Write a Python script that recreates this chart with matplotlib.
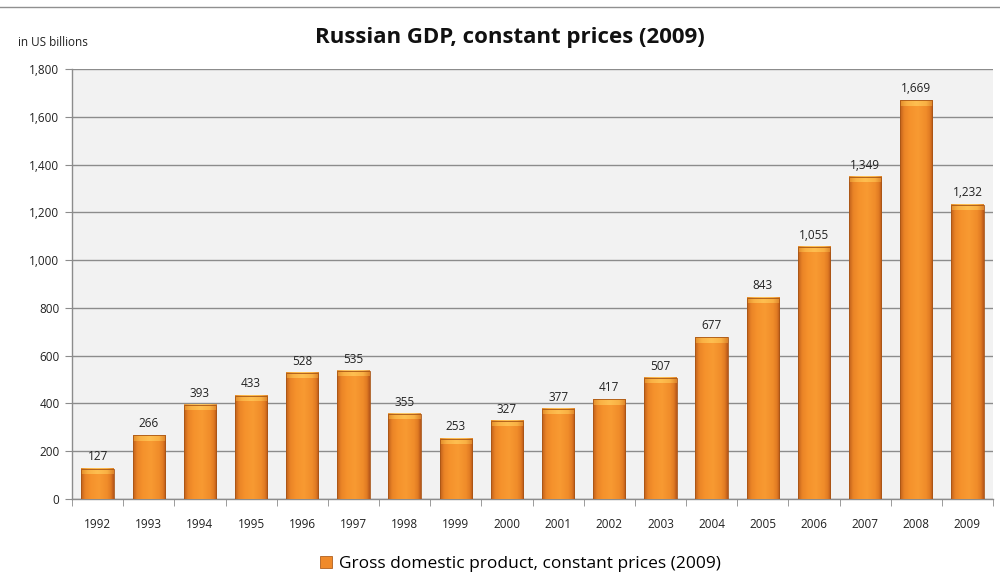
import matplotlib
matplotlib.use("Agg")
import matplotlib.pyplot as plt
import numpy as np
from matplotlib.colors import LinearSegmentedColormap
from matplotlib.patches import Rectangle

years = ["1992", "1993", "1994", "1995", "1996", "1997", "1998", "1999", "2000",
         "2001", "2002", "2003", "2004", "2005", "2006", "2007", "2008", "2009"]
gdp = [127, 266, 393, 433, 528, 535, 355, 253, 327,
       377, 417, 507, 677, 843, 1055, 1349, 1669, 1232]
y_ticks = [0, 200, 400, 600, 800, 1000, 1200, 1400, 1600, 1800]

plt.rcParams["font.family"] = ["Open Sans", "DejaVu Sans"]

fig = plt.figure(figsize=(10, 5.85), dpi=100)
ax = fig.add_axes([0.072, 0.147, 0.921, 0.735])
ax.set_facecolor("#f2f2f2")

n = len(years)
x = np.arange(n)
width = 0.63

# Rounded shading across each bar: flat orange body, darker rims
body_cmap = LinearSegmentedColormap.from_list(
    "body", [(0.0, "#c0601c"), (0.12, "#ea8426"), (0.3, "#f5922c"), (0.55, "#f89a32"),
             (0.8, "#f08c2a"), (0.92, "#e07a22"), (1.0, "#b5561a")])
cap_cmap = LinearSegmentedColormap.from_list(
    "cap", [(0.0, "#e6922e"), (0.2, "#fbb648"), (0.5, "#ffc455"), (0.8, "#fbb648"),
            (1.0, "#e0882c")])
grad = np.linspace(0, 1, 64).reshape(1, -1)
cap_h = 22

for xi, v in zip(x, gdp):
    x0, x1 = xi - width / 2, xi + width / 2
    ax.imshow(grad, cmap=body_cmap, extent=[x0, x1, 0, v], aspect="auto",
              zorder=3, interpolation="bicubic")
    ax.imshow(grad, cmap=cap_cmap, extent=[x0, x1, v - cap_h, v], aspect="auto",
              zorder=4, interpolation="bicubic", alpha=0.9)
    ax.add_patch(Rectangle((x0, 0), width, v, fill=False, edgecolor="#a85515",
                           linewidth=0.6, zorder=5))
    ax.text(xi, v + 22, f"{v:,}", ha="center", va="bottom", fontsize=8.5,
            color="#222222", zorder=6)

ax.set_xlim(-0.5, n - 0.5)
ax.set_ylim(0, 1800)

ax.set_yticks(y_ticks)
ax.set_yticklabels([f"{t:,}" for t in y_ticks], fontsize=8.5, color="#222222")
ax.yaxis.grid(True, color="#8c8c8c", linewidth=1.0, zorder=1)
ax.set_axisbelow(True)

ax.set_xticks(x)
ax.set_xticklabels(years, fontsize=8.5, color="#222222")
ax.set_xticks(np.arange(-0.5, n, 1), minor=True)
ax.tick_params(axis="x", which="major", length=0, pad=14)
ax.tick_params(axis="x", which="minor", length=5, color="#8c8c8c", direction="out")
ax.tick_params(axis="y", length=5, color="#8c8c8c", direction="out", pad=4)

for side in ("top", "right"):
    ax.spines[side].set_visible(False)
for side in ("left", "bottom"):
    ax.spines[side].set_color("#8c8c8c")
    ax.spines[side].set_linewidth(1.0)

fig.text(0.51, 0.936, "Russian GDP, constant prices (2009)", ha="center", va="center",
         fontsize=16, fontweight="bold", color="#111111")
fig.text(0.018, 0.928, "in US billions", ha="left", va="center", fontsize=8.5,
         color="#222222")

# Legend entry
leg_handle = Rectangle((0, 0), 1, 1, facecolor="#f08a2a", edgecolor="#b06020", linewidth=0.6)
fig.legend([leg_handle], ["Gross domestic product, constant prices (2009)"],
           loc="center", bbox_to_anchor=(0.52, 0.036), frameon=False, fontsize=12.5,
           handlelength=0.7, handleheight=0.7, handletextpad=0.4)

# thin frame line at the top of the figure
fig.add_artist(plt.Line2D([0.0, 1.0], [0.988, 0.988], color="#909090", linewidth=1.0,
                          transform=fig.transFigure))

fig.savefig("out.png", dpi=100, facecolor="white")
